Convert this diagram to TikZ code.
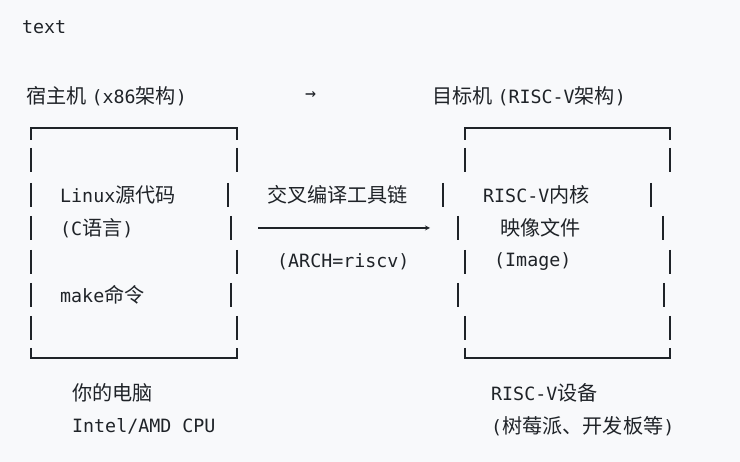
\documentclass[tikz,border=0pt]{standalone}
\usepackage{fontspec}
\setmainfont{DejaVu Sans Mono}
\newfontfamily\cjk{Noto Sans CJK SC}[Scale=1.1]
\newcommand{\Cj}[1]{{\cjk #1}}
\definecolor{bg}{HTML}{F8F9FB}
\definecolor{ink}{HTML}{1F2328}
\begin{document}
\begin{tikzpicture}[x=1pt,y=-1pt,
  t/.style={anchor=west,inner sep=0pt,text=ink,font=\fontsize{18.3}{20}\selectfont},
  bar/.style={draw=ink,line width=1.3pt}]
\fill[bg] (0,0) rectangle (740,462);
\useasboundingbox (0,0) rectangle (740,462);
\node[t] (tx) at (22,27) {text};
\node[t] (h1) at (26,96) {\Cj{宿主机}\hspace{5pt}(x86\Cj{架构})};
\node[t] (ar) at (305,96) {→};
\node[t] (h2) at (432,96) {\Cj{目标机}\hspace{5pt}(RISC-V\Cj{架构})};
% left box
\draw[bar] (31,140) -- (31,128) -- (237,128) -- (237,140);
\draw[bar] (31,348) -- (31,358) -- (237,358) -- (237,348);
\foreach \y/\l/\r in {160/31/237,195/31/228,228/31/231,262/31/237,295/31/231,328/31/237}{
  \draw[bar] (\l,\y-12) -- (\l,\y+12);
  \draw[bar] (\r,\y-12) -- (\r,\y+12);}
\node[t] (l1) at (60,195) {Linux\Cj{源代码}};
\node[t] (l2) at (60,228) {(C\Cj{语言})};
\node[t] (l3) at (60,295) {make\Cj{命令}};
% right box
\draw[bar] (465,140) -- (465,128) -- (670,128) -- (670,140);
\draw[bar] (465,348) -- (465,358) -- (670,358) -- (670,348);
\foreach \y/\l/\r in {160/465/670,195/443/651,228/458/663,262/465/670,295/458/664,328/465/670}{
  \draw[bar] (\l,\y-12) -- (\l,\y+12);
  \draw[bar] (\r,\y-12) -- (\r,\y+12);}
\node[t] (r1) at (483,195) {RISC-V\Cj{内核}};
\node[t] (r2) at (500,228) {\Cj{映像文件}};
\node[t] (r3) at (494,262) {(Image)};
% middle
\node[t] (m1) at (267,195) {\Cj{交叉编译工具链}};
\coordinate (a1) at (258,228);
\coordinate (a2) at (430,228);
\draw[draw=ink,line width=1.2pt,-stealth] (a1) -- (a2);
\node[t] (m2) at (277,262) {(ARCH=riscv)};
% bottom
\node[t] (b1) at (72,393) {\Cj{你的电脑}};
\node[t] (b2) at (72,426) {Intel/AMD CPU};
\node[t] (b3) at (491,393) {RISC-V\Cj{设备}};
\node[t] (b4) at (491,426) {(\Cj{树莓派、开发板等})};
\end{tikzpicture}
\end{document}
